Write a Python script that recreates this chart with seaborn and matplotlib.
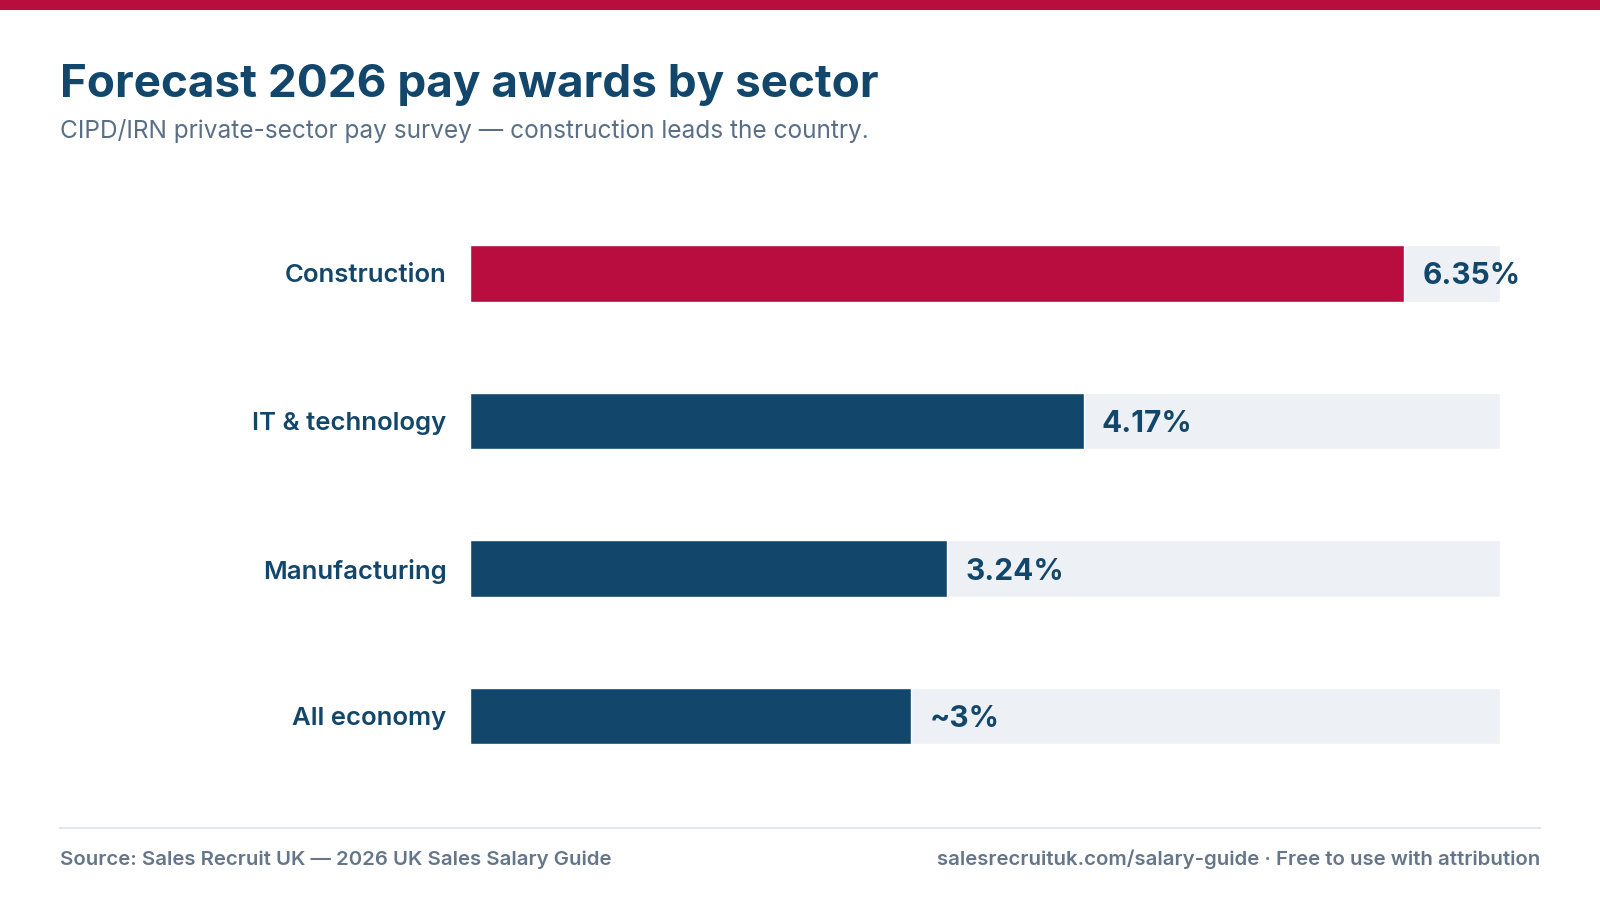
import numpy as np
import pandas as pd
import seaborn as sns
import matplotlib.pyplot as plt
from matplotlib.patches import Rectangle
from matplotlib.lines import Line2D

sectors = ["Construction", "IT & technology", "Manufacturing", "All economy"]
awards = [6.35, 4.17, 3.24, 3.0]
award_labels = ["6.35%", "4.17%", "3.24%", "~3%"]
track_max = 7.0

NAVY = "#12476b"
RED = "#b90c3f"
TRACK = "#edf1f5"
GREY = "#66768a"

sns.set_theme(style="white")
plt.rcParams["font.family"] = ["Inter", "DejaVu Sans"]

df = pd.DataFrame({"sector": sectors, "award": awards, "track": [track_max] * len(sectors)})
bar_colors = {s: (RED if i == 0 else NAVY) for i, s in enumerate(sectors)}

fig = plt.figure(figsize=(16, 9), dpi=100)
fig.patch.set_facecolor("white")

# top accent band
fig.add_artist(Rectangle((0, 1 - 10 / 900), 1, 10 / 900, transform=fig.transFigure,
                         color=RED, lw=0))

ax = fig.add_axes([470 / 1600, 0.1225, 1030 / 1600, 590 / 900])
bw = 0.38
sns.barplot(data=df, y="sector", x="track", color=TRACK, width=bw, ax=ax,
            saturation=1, orient="h")
sns.barplot(data=df, y="sector", x="award", hue="sector", palette=bar_colors,
            width=bw, ax=ax, saturation=1, orient="h", legend=False)

ax.set_xlim(0, track_max)
ax.set_ylim(3.5, -0.5)
ax.set_xlabel("")
ax.set_ylabel("")
ax.set_xticks([])
ax.tick_params(axis="y", length=0, pad=17)
for lab in ax.get_yticklabels():
    lab.set_fontsize(18.5)
    lab.set_fontweight("semibold")
    lab.set_color(NAVY)
sns.despine(ax=ax, left=True, bottom=True)

for i, (v, t) in enumerate(zip(awards, award_labels)):
    ax.text(v + 0.125, i, t, va="center_baseline", ha="left", fontsize=21.5,
            fontweight="bold", color=NAVY)

fig.text(60 / 1600, 1 - 97 / 900, "Forecast 2026 pay awards by sector", fontsize=33,
         fontweight="bold", color=NAVY, ha="left", va="baseline")
fig.text(60 / 1600, 1 - 138 / 900,
         "CIPD/IRN private-sector pay survey \u2014 construction leads the country.",
         fontsize=17.6, color="#5a6f86", ha="left", va="baseline")

fig.add_artist(Line2D([60 / 1600, 1540 / 1600], [1 - 828 / 900] * 2,
                      transform=fig.transFigure, color="#e2e8f0", lw=1.5))
fig.text(60 / 1600, 1 - 865 / 900, "Source: Sales Recruit UK \u2014 2026 UK Sales Salary Guide",
         fontsize=14.7, fontweight="semibold", color=GREY, ha="left", va="baseline")
fig.text(1540 / 1600, 1 - 865 / 900,
         "salesrecruituk.com/salary-guide \u00b7 Free to use with attribution",
         fontsize=14.7, fontweight="semibold", color=GREY, ha="right", va="baseline")

fig.savefig("out.png", dpi=100)
